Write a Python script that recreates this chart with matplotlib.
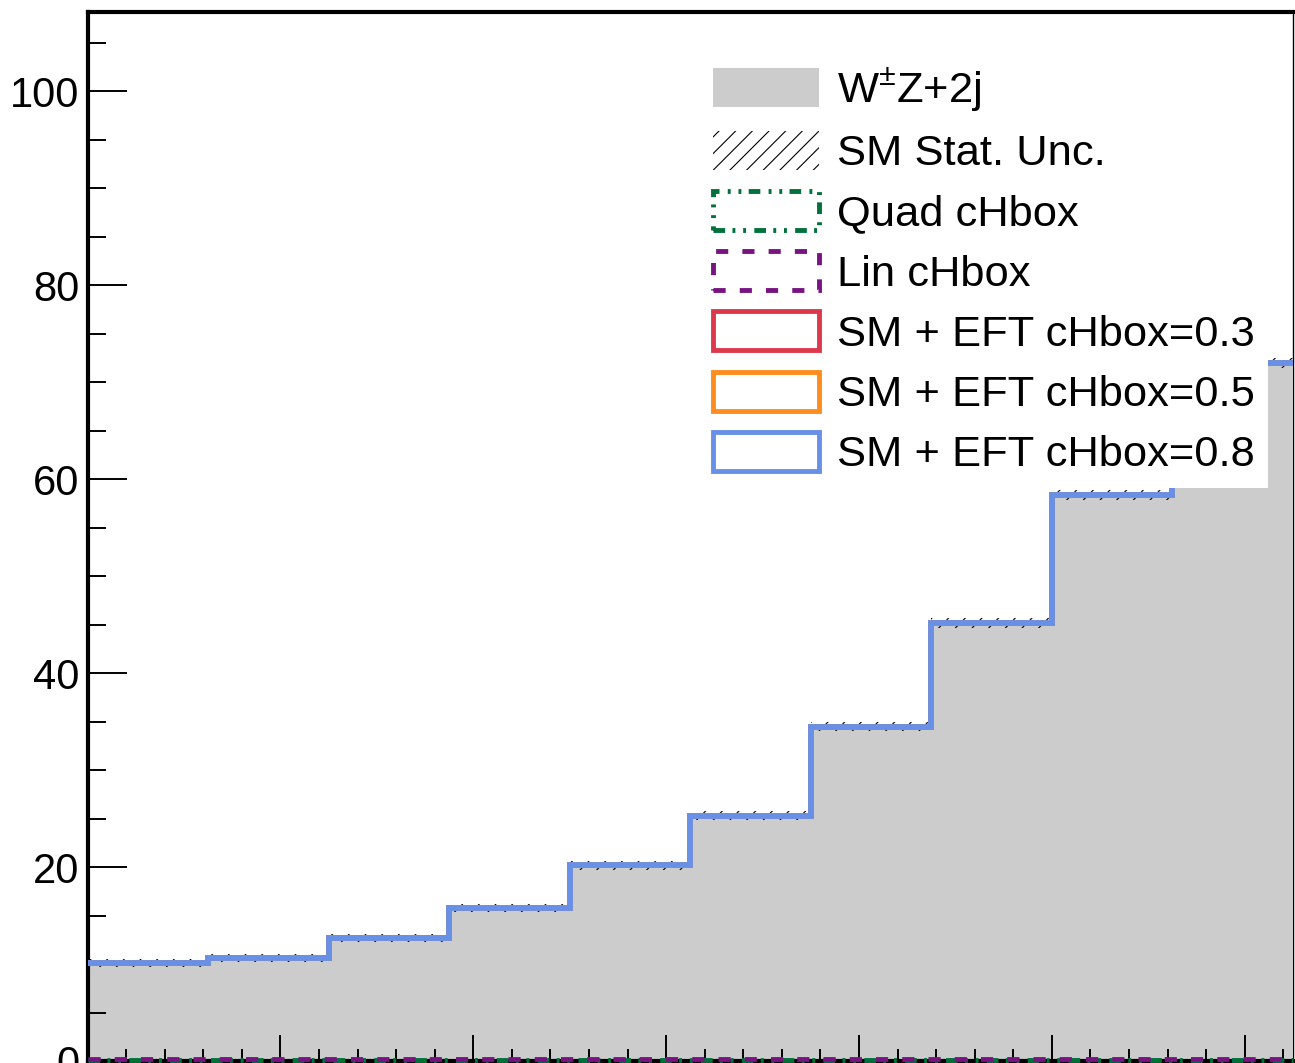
import matplotlib
matplotlib.use("Agg")
import matplotlib.pyplot as plt
from matplotlib.patches import Patch
from matplotlib.ticker import MultipleLocator
import numpy as np

plt.rcParams['font.family'] = ['Liberation Sans', 'DejaVu Sans']
plt.rcParams['mathtext.fontset'] = 'custom'
plt.rcParams['mathtext.rm'] = 'Liberation Sans'
plt.rcParams['mathtext.it'] = 'Liberation Sans:italic'
plt.rcParams['hatch.linewidth'] = 0.8

# bin edges (x labels are cropped out of the picture)
edges = np.arange(0, 251, 25)

# SM W+-Z+2j yields per bin
sm = [10.1, 10.6, 12.7, 15.8, 20.2, 25.3, 34.5, 45.2, 58.4, 72.0]
sm_unc = [0.4, 0.4, 0.4, 0.4, 0.45, 0.45, 0.5, 0.5, 0.5, 0.5]

# EFT components (tiny, sit on the x axis)
quad = [0.15, 0.15, 0.15, 0.15, 0.15, 0.15, 0.15, 0.15, 0.15, 0.15]
lin = [0.2, 0.2, 0.2, 0.2, 0.2, 0.2, 0.2, 0.2, 0.2, 0.2]

# SM + EFT for cHbox = 0.3, 0.5, 0.8
eft_03 = [10.1, 10.6, 12.7, 15.8, 20.2, 25.3, 34.5, 45.2, 58.4, 72.0]
eft_05 = [10.1, 10.6, 12.7, 15.8, 20.2, 25.3, 34.5, 45.2, 58.4, 72.0]
eft_08 = [10.1, 10.6, 12.7, 15.8, 20.2, 25.3, 34.5, 45.2, 58.4, 72.0]

grey = '#cccccc'
green = '#00703c'
purple = '#781482'
red = '#dc3a4c'
orange = '#ff8c1e'
blue = '#6890e6'

dashdot = (0, (2.4, 1.5, 0.6, 1.6, 0.6, 1.7))
dashed = (0, (2.5, 2.9))

fig = plt.figure(figsize=(12.95, 10.63), dpi=100)
ax = fig.add_axes([87.5 / 1295, 1 - 1061 / 1063, (1293 - 87.5) / 1295, (1061 - 12) / 1063])

# SM histogram
ax.stairs(sm, edges, fill=True, color=grey, linewidth=0, zorder=1)

# stat. uncertainty band
lo = np.array(sm) - np.array(sm_unc)
hi = np.array(sm) + np.array(sm_unc)
ax.stairs(hi, edges, baseline=lo, fill=True, facecolor='none', edgecolor='black',
          hatch='//', linewidth=0, zorder=2)

# EFT curves
ax.stairs(quad, edges, color=green, linewidth=3.5, linestyle=dashdot, zorder=6,
          baseline=None, clip_on=False)
ax.stairs(lin, edges, color=purple, linewidth=3.5, linestyle=dashed, zorder=6,
          baseline=None, clip_on=False)
ax.stairs(eft_03, edges, color=red, linewidth=4.2, zorder=4, baseline=None)
ax.stairs(eft_05, edges, color=orange, linewidth=4.2, zorder=4, baseline=None)
ax.stairs(eft_08, edges, color=blue, linewidth=4.2, zorder=5, baseline=None)

ax.set_xlim(edges[0], edges[-1])
ax.set_ylim(0, 108.2)

ax.xaxis.set_major_locator(MultipleLocator(40))
ax.xaxis.set_minor_locator(MultipleLocator(8))
ax.yaxis.set_major_locator(MultipleLocator(20))
ax.yaxis.set_minor_locator(MultipleLocator(5))
ax.tick_params(axis='both', which='both', direction='in', top=False, right=False)
ax.tick_params(axis='y', which='major', length=28, width=1.4, labelsize=30, pad=6)
ax.tick_params(axis='y', which='minor', length=13, width=1.4)
ax.tick_params(axis='x', which='major', length=19, width=1.4, labelsize=30)
ax.tick_params(axis='x', which='minor', length=9, width=1.4)

ax.spines['left'].set_linewidth(3.0)
ax.spines['bottom'].set_linewidth(3.0)
ax.spines['top'].set_linewidth(3.0)
ax.spines['right'].set_linewidth(1.0)
ax.spines['right'].set_zorder(0.5)

handles = [
    Patch(facecolor=grey, edgecolor='none', label=r'W$^{\pm}$Z+2j'),
    Patch(facecolor='none', edgecolor='black', hatch='//', linewidth=0, label='SM Stat. Unc.'),
    Patch(facecolor='none', edgecolor=green, linewidth=3.5, linestyle=dashdot, label='Quad cHbox'),
    Patch(facecolor='none', edgecolor=purple, linewidth=3.5, linestyle=dashed, label='Lin cHbox'),
    Patch(facecolor='none', edgecolor=red, linewidth=3.5, label='SM + EFT cHbox=0.3'),
    Patch(facecolor='none', edgecolor=orange, linewidth=3.5, label='SM + EFT cHbox=0.5'),
    Patch(facecolor='none', edgecolor=blue, linewidth=3.5, label='SM + EFT cHbox=0.8'),
]
leg = ax.legend(handles=handles, loc='upper left', bbox_to_anchor=(700 / 1295, 1 - 53 / 1063),
                bbox_transform=fig.transFigure, fontsize=31.3, frameon=True, fancybox=False,
                framealpha=1, facecolor='white', edgecolor='none', borderpad=0.3,
                handlelength=2.44, handleheight=1.0, handletextpad=0.42, labelspacing=0.39,
                borderaxespad=0)
leg.set_zorder(10)

fig.savefig('out.png', dpi=100)
